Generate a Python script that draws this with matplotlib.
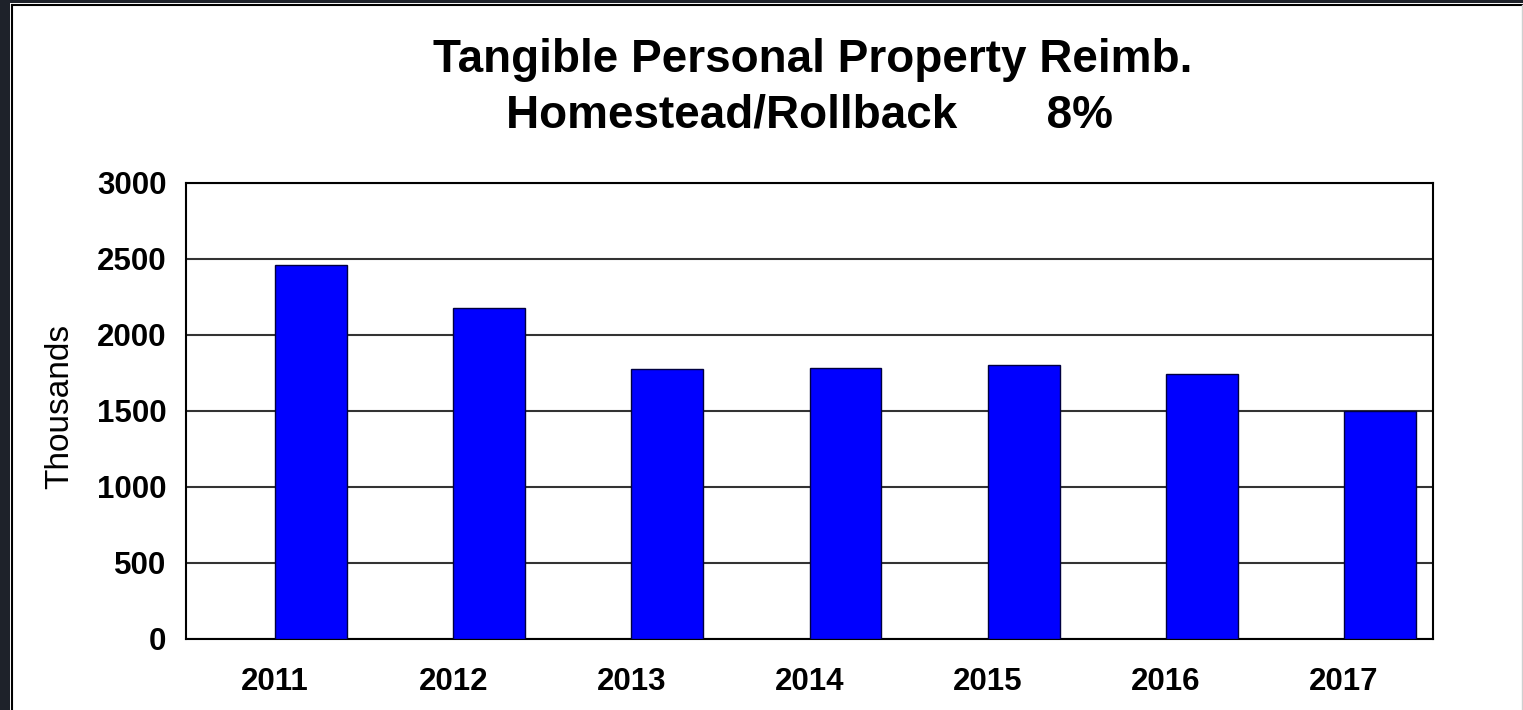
import numpy as np
import matplotlib
matplotlib.use("Agg")
import matplotlib.pyplot as plt
from matplotlib.patches import Rectangle
from matplotlib.lines import Line2D

# Datos (miles)
years = ["2011", "2012", "2013", "2014", "2015", "2016", "2017"]
values = [2462, 2180, 1778, 1786, 1800, 1744, 1497]
y_ticks = [0, 500, 1000, 1500, 2000, 2500, 3000]

W, H = 1523, 710
plt.rcParams["font.family"] = ["Liberation Sans", "DejaVu Sans"]

fig = plt.figure(figsize=(W / 100, H / 100), dpi=100)
fig.patch.set_facecolor("white")

# Marco oscuro de la diapositiva
dark = "#1e222a"
fig.add_artist(Rectangle((0, 0), 10 / W, 1, transform=fig.transFigure,
                         facecolor=dark, edgecolor="none"))
fig.add_artist(Rectangle((0, 1 - 3 / H), 1, 3 / H, transform=fig.transFigure,
                         facecolor=dark, edgecolor="none"))
fig.add_artist(Line2D([12 / W, 12 / W], [0, 1 - 5 / H], transform=fig.transFigure,
                      color="black", lw=1.5))
fig.add_artist(Line2D([12 / W, 1], [1 - 5 / H, 1 - 5 / H], transform=fig.transFigure,
                      color="black", lw=1.5))
fig.add_artist(Line2D([1 - 1 / W, 1 - 1 / W], [0, 1 - 5 / H], transform=fig.transFigure,
                      color="#cfcfcf", lw=1))

# Ejes
left, right, top, bottom = 186, 1433, 183, 639
ax = fig.add_axes([left / W, 1 - bottom / H, (right - left) / W, (bottom - top) / H])

x = np.arange(len(years))
ax.bar(x, values, width=0.404, align="edge", color="#0000ff",
       edgecolor="#000040", linewidth=1, zorder=3)

ax.set_xlim(-0.5, len(years) - 0.5)
ax.set_ylim(0, 3000)
ax.set_yticks(y_ticks)
ax.set_xticks(x)
ax.set_xticklabels(years)
ax.yaxis.grid(True, color="#333333", linewidth=1.5, zorder=0)
ax.set_axisbelow(True)
for s in ax.spines.values():
    s.set_color("black")
    s.set_linewidth(1.5)

ax.tick_params(axis="y", length=0, pad=14, labelsize=22.5)
ax.tick_params(axis="x", length=0, pad=20, labelsize=22.5)
for lab in ax.get_xticklabels() + ax.get_yticklabels():
    lab.set_fontweight("bold")

fig.text(60 / W, 1 - 406 / H, "Thousands", rotation=90, ha="center", va="center",
         fontsize=24)

# Titulo
fig.text(813 / W, 1 - 72 / H, "Tangible Personal Property Reimb.", ha="center",
         va="baseline", fontsize=33, fontweight="bold")
fig.text(810 / W, 1 - 128 / H, "Homestead/Rollback       8%", ha="center",
         va="baseline", fontsize=33, fontweight="bold")

fig.savefig("out.png", dpi=100)
